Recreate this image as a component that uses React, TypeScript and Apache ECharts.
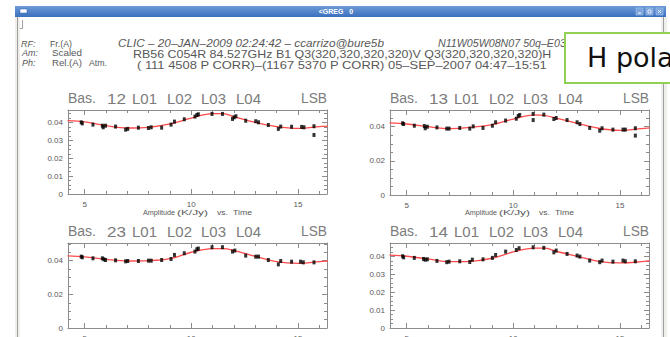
import React, { useEffect, useRef } from "react";
import * as echarts from "echarts";

// ---- Baseline 12 : observation time (h) and amplitude (K/Jy)
const T12 = [4.84, 4.89, 5.39, 5.83, 5.87, 5.98, 6.45, 6.92, 7.02, 7.52, 7.99, 8.12, 8.61, 9.05, 9.21, 9.67, 10.17, 10.26, 10.33, 10.97, 11.46, 11.93, 12.01, 12.09, 12.55, 13.02, 13.15, 13.61, 14.08, 14.19, 14.7, 15.17, 15.28, 15.75, 15.75];
const A12 = [0.0402, 0.0396, 0.0389, 0.0383, 0.0374, 0.0383, 0.0378, 0.0361, 0.0365, 0.0372, 0.037, 0.0374, 0.0372, 0.0389, 0.0406, 0.0419, 0.0434, 0.0443, 0.0447, 0.0449, 0.0449, 0.0421, 0.043, 0.0436, 0.0411, 0.0408, 0.0402, 0.0387, 0.0365, 0.0378, 0.0377, 0.0376, 0.0374, 0.038, 0.0331];

// ---- Baseline 13
const T13 = [4.81, 4.86, 5.36, 5.83, 5.87, 5.97, 6.42, 6.88, 6.99, 7.49, 7.96, 8.12, 8.58, 9.02, 9.17, 9.64, 10.14, 10.23, 10.3, 10.93, 10.93, 11.43, 11.9, 12.01, 12.52, 12.99, 13.12, 13.58, 14.05, 14.16, 14.67, 15.14, 15.25, 15.72, 15.72];
const A13 = [0.042, 0.0416, 0.0406, 0.0404, 0.0391, 0.04, 0.0396, 0.0389, 0.0389, 0.0393, 0.0389, 0.0402, 0.0393, 0.0406, 0.0426, 0.0436, 0.0447, 0.0463, 0.0469, 0.0475, 0.0439, 0.0471, 0.0445, 0.0451, 0.0439, 0.0426, 0.0416, 0.0393, 0.0377, 0.0391, 0.0383, 0.0383, 0.0383, 0.0391, 0.0348];

// ---- Baseline 23
const T23 = [4.84, 4.89, 5.39, 5.83, 5.9, 5.98, 6.45, 6.92, 7.02, 7.52, 7.99, 8.12, 8.61, 9.05, 9.21, 9.67, 10.17, 10.26, 10.33, 10.97, 11.46, 11.93, 12.04, 12.55, 13.02, 13.15, 13.61, 14.08, 14.19, 14.7, 15.12, 15.25, 15.75];
const A23 = [0.0424, 0.042, 0.0414, 0.0414, 0.0408, 0.0404, 0.0402, 0.0396, 0.0398, 0.0398, 0.04, 0.04, 0.0404, 0.041, 0.0434, 0.0444, 0.0454, 0.0468, 0.0472, 0.048, 0.048, 0.0454, 0.046, 0.043, 0.0424, 0.0424, 0.0404, 0.0378, 0.0398, 0.0394, 0.0394, 0.039, 0.039];

// ---- Baseline 14
const T14 = [4.81, 4.86, 5.36, 5.79, 5.87, 5.97, 6.42, 6.88, 6.99, 7.49, 7.96, 8.08, 8.58, 9.02, 9.17, 9.64, 10.14, 10.27, 10.93, 11.43, 11.9, 12.01, 12.52, 12.99, 13.12, 13.58, 14.05, 14.16, 14.67, 15.14, 15.25, 15.72];
const A14 = [0.04, 0.0394, 0.0391, 0.0385, 0.0381, 0.0383, 0.0374, 0.0367, 0.037, 0.0372, 0.0368, 0.0381, 0.0383, 0.0391, 0.0407, 0.0426, 0.0435, 0.0445, 0.045, 0.0447, 0.0422, 0.0432, 0.0413, 0.0404, 0.0398, 0.0376, 0.0367, 0.0376, 0.037, 0.0376, 0.0372, 0.0372];

// ---- Fitted amplitude curves, sampled at FIT_T
const FIT_T = [4.2, 5, 6, 7, 8, 9, 10, 11, 11.5, 12, 13, 14, 15, 16, 16.4];
const FIT_12 = [0.0411, 0.0404, 0.0383, 0.037, 0.0374, 0.0393, 0.0426, 0.0451, 0.0451, 0.0434, 0.0402, 0.0378, 0.0368, 0.0378, 0.0381];
const FIT_13 = [0.0422, 0.0416, 0.04, 0.0389, 0.0396, 0.0412, 0.0445, 0.0469, 0.0465, 0.0451, 0.042, 0.0391, 0.0379, 0.0389, 0.0393];
const FIT_23 = [0.0428, 0.0422, 0.0408, 0.0398, 0.04, 0.0412, 0.045, 0.0472, 0.0472, 0.046, 0.0426, 0.0394, 0.0384, 0.0394, 0.0398];
const FIT_14 = [0.0406, 0.04, 0.0385, 0.037, 0.0372, 0.0389, 0.0424, 0.0445, 0.0445, 0.0428, 0.04, 0.0372, 0.0363, 0.037, 0.0376];

// ---- Axis ticks
const X_MIN = 4.22;
const X_MAX = 16.36;
const X_MAJOR = [5, 10, 15];
const X_MINOR = [6, 7, 8, 9, 11, 12, 13, 14, 16];

const FONT = "'Liberation Sans', Arial, sans-serif";
const TEXT = "#585858";
const FRAME = "#8c8c8c";
const PANEL_W = 259;

const PANELS = [
  { base: "12", t: T12, a: A12, fit: FIT_12, left: 68, top: 110, height: 84, yMax: 0.0471, yStep: 0.01 },
  { base: "13", t: T13, a: A13, fit: FIT_13, left: 390, top: 110, height: 85, yMax: 0.0498, yStep: 0.02 },
  { base: "23", t: T23, a: A23, fit: FIT_23, left: 68, top: 243, height: 85, yMax: 0.0505, yStep: 0.02 },
  { base: "14", t: T14, a: A14, fit: FIT_14, left: 390, top: 243, height: 85, yMax: 0.0474, yStep: 0.01 },
];

function yTicks(max: number, step: number) {
  const major: number[] = [];
  const minor: number[] = [];
  const sub = step / 4;
  for (let i = 0; i * sub <= max + 1e-9; i++) {
    const v = Number((i * sub).toFixed(5));
    if (i % 4 === 0) major.push(v);
    else minor.push(v);
  }
  return { major, minor };
}

export default function App() {
  const ref = useRef<HTMLDivElement>(null);

  useEffect(() => {
    if (!ref.current) return;
    const chart = echarts.init(ref.current, null, { renderer: "svg" });

    const ctx = document.createElement("canvas").getContext("2d") as CanvasRenderingContext2D;
    const txt = (
      text: string,
      x: number,
      y: number,
      width: number,
      size: number,
      o: { italic?: boolean; bold?: boolean; color?: string; align?: string; family?: string } = {}
    ) => {
      const fontStyle = o.italic ? "italic" : "normal";
      const fontWeight = o.bold ? "bold" : "normal";
      const family = o.family || FONT;
      ctx.font = `${fontStyle} ${fontWeight} ${size}px ${family}`;
      const w = ctx.measureText(text).width || 1;
      return {
        type: "text",
        x,
        y,
        scaleX: width ? width / w : 1,
        silent: true,
        style: {
          text,
          fontSize: size,
          fontFamily: family,
          fontStyle,
          fontWeight,
          fill: o.color || TEXT,
          align: o.align || "left",
          verticalAlign: "middle",
        },
      };
    };

    const grid: any[] = [];
    const xAxis: any[] = [];
    const yAxis: any[] = [];
    const series: any[] = [];
    const graphic: any[] = [];

    PANELS.forEach((p, gi) => {
      grid.push({ left: p.left, top: p.top, width: PANEL_W, height: p.height, containLabel: false, outerBoundsMode: "none" });
      const { major, minor } = yTicks(p.yMax, p.yStep);

      const xb = {
        gridIndex: gi, type: "value", min: X_MIN, max: X_MAX,
        splitLine: { show: false }, minorTick: { show: false },
        axisLabel: { show: false }, axisTick: { show: false },
        axisLine: { show: false, onZero: false },
      };
      const yb = {
        gridIndex: gi, type: "value", min: 0, max: p.yMax,
        splitLine: { show: false }, minorTick: { show: false },
        axisLabel: { show: false }, axisTick: { show: false },
        axisLine: { show: false, onZero: false },
      };
      const line = { show: true, onZero: false, lineStyle: { color: FRAME, width: 1 } };
      const tick = (vals: number[], len: number) => ({ show: true, inside: true, length: len, customValues: vals, lineStyle: { color: FRAME, width: 1 } });

      const xi = xAxis.length;
      xAxis.push({
        ...xb, position: "bottom", axisLine: line, axisTick: tick(X_MAJOR, 5),
        axisLabel: { show: true, customValues: X_MAJOR, margin: 6, fontSize: 8, color: TEXT, fontFamily: FONT },
      });
      xAxis.push({ ...xb, position: "bottom", axisTick: tick(X_MINOR, 3) });
      xAxis.push({ ...xb, position: "top", axisLine: line, axisTick: tick(X_MAJOR, 5) });
      xAxis.push({ ...xb, position: "top", axisTick: tick(X_MINOR, 3) });

      const yi = yAxis.length;
      yAxis.push({
        ...yb, position: "left", axisLine: line, axisTick: tick(major, 5),
        axisLabel: { show: true, customValues: major, margin: 5, fontSize: 8, color: TEXT, fontFamily: FONT },
      });
      yAxis.push({ ...yb, position: "left", axisTick: tick(minor, 3) });
      yAxis.push({ ...yb, position: "right", axisLine: line, axisTick: tick(major, 5) });
      yAxis.push({ ...yb, position: "right", axisTick: tick(minor, 3) });

      series.push({
        type: "line", xAxisIndex: xi, yAxisIndex: yi, silent: true,
        data: FIT_T.map((t, i) => [t, p.fit[i]]),
        smooth: 0.35, showSymbol: false, z: 2,
        lineStyle: { color: "#ff4b4b", width: 1.3 },
      });
      series.push({
        type: "scatter", xAxisIndex: xi, yAxisIndex: yi, silent: true,
        data: p.t.map((t, i) => [t, p.a[i]]),
        symbol: "rect", symbolSize: [3, 4], z: 3,
        itemStyle: { color: "#000" },
      });

      // panel heading
      const ty = p.top - 12;
      const words: [string, number, number][] = [
        ["Bas.", 0, 28], [p.base, 39, 19], ["L01", 64, 25], ["L02", 99, 25], ["L03", 133, 25], ["L04", 168, 25],
      ];
      words.forEach(([w, dx, wd]) => graphic.push(txt(w, p.left + dx, ty, wd, 15, { color: "#7c7c7c" })));
      graphic.push(txt("LSB", p.left + PANEL_W, ty, 26, 15, { color: "#7c7c7c", align: "right" }));

      // axis caption under the upper row
      if (p.top < 200) {
        const cy = p.top + 102;
        const cap: [string, number, number][] = [["Amplitude", 75, 32], ["(K/Jy)", 109, 31], ["vs.", 149, 11], ["Time", 165, 19]];
        cap.forEach(([w, dx, wd]) => graphic.push(txt(w, p.left + dx, cy, wd, 8)));
      }
    });

    // window frame
    graphic.push({ type: "rect", silent: true, shape: { x: 15, y: 17, width: 5, height: 330 }, style: { fill: "#efeeeb" } });
    graphic.push({ type: "line", silent: true, shape: { x1: 17.5, y1: 17, x2: 17.5, y2: 340 }, style: { stroke: "#9e9e9e", lineWidth: 1 } });
    graphic.push({ type: "rect", silent: true, shape: { x: 661, y: 17, width: 6, height: 330 }, style: { fill: "#efeeeb" } });
    graphic.push({ type: "line", silent: true, shape: { x1: 663.5, y1: 17, x2: 663.5, y2: 340 }, style: { stroke: "#9e9e9e", lineWidth: 1 } });

    // title bar
    graphic.push({
      type: "rect", silent: true, shape: { x: 15, y: 6, width: 651, height: 11 },
      style: {
        fill: new echarts.graphic.LinearGradient(0, 0, 0, 1, [
          { offset: 0, color: "#6e9bd8" },
          { offset: 1, color: "#3b6fbd" },
        ]),
      },
    });
    graphic.push({ type: "rect", silent: true, shape: { x: 20, y: 9, width: 7, height: 4 }, style: { fill: "#ffffff", stroke: "#2d5ea8", lineWidth: 0.5 } });
    graphic.push(txt("<GREG   0", 336, 11.5, 0, 7, { bold: true, color: "#ffffff", align: "center" }));
    [636, 646, 656].forEach((bx) =>
      graphic.push({ type: "rect", silent: true, shape: { x: bx, y: 8, width: 7, height: 7 }, style: { fill: "#7aa3dc", stroke: "#b7cdee", lineWidth: 0.5 } })
    );
    graphic.push({ type: "line", silent: true, shape: { x1: 638, y1: 13, x2: 641, y2: 13 }, style: { stroke: "#fff", lineWidth: 1 } });
    graphic.push({ type: "rect", silent: true, shape: { x: 648, y: 10, width: 3, height: 3 }, style: { fill: "none", stroke: "#fff", lineWidth: 0.8 } });
    graphic.push({ type: "line", silent: true, shape: { x1: 658, y1: 10, x2: 661, y2: 13 }, style: { stroke: "#fff", lineWidth: 0.8 } });
    graphic.push({ type: "line", silent: true, shape: { x1: 661, y1: 10, x2: 658, y2: 13 }, style: { stroke: "#fff", lineWidth: 0.8 } });

    // small entry mark under the title bar
    graphic.push({ type: "polyline", silent: true, shape: { points: [[20, 28.5], [22.5, 28.5], [22.5, 20]] }, style: { stroke: "#a0a0a0", fill: "none", lineWidth: 1 } });

    // header block
    graphic.push(txt("RF:", 21, 43.5, 0, 9, { italic: true }));
    graphic.push(txt("Fr.(A)", 50, 43.5, 22, 9));
    graphic.push(txt("Am:", 22, 53, 0, 9, { italic: true }));
    graphic.push(txt("Scaled", 52, 53, 30, 9));
    graphic.push(txt("Ph:", 22, 63, 0, 9, { italic: true }));
    graphic.push(txt("Rel.(A)", 52, 63, 30, 9));
    graphic.push(txt("Atm.", 89, 63, 18, 9));
    graphic.push(txt("CLIC – 20–JAN–2009 02:24:42 – ccarrizo@bure5b", 118, 43.5, 266, 10, { italic: true }));
    graphic.push(txt("N11W05W08N07 50q–E03", 438, 43.5, 128, 10, { italic: true }));
    graphic.push(txt("RB56 C054R 84.527GHz B1 Q3(320,320,320,320)V Q3(320,320,320,320)H", 133, 54.5, 419, 10));
    graphic.push(txt("( 111 4508 P CORR)–(1167 5370 P CORR) 05–SEP–2007 04:47–15:51", 137, 65.5, 411, 10));

    // overlay caption box
    graphic.push({ type: "rect", silent: true, shape: { x: 565, y: 33, width: 120, height: 50 }, style: { fill: "#ffffff", stroke: "#92cf55", lineWidth: 2 } });
    graphic.push(txt("H pola", 587, 57, 0, 27, { color: "#111111", family: "'DejaVu Sans', Verdana, sans-serif" }));

    chart.setOption({
      animation: false,
      backgroundColor: "#ffffff",
      grid,
      xAxis,
      yAxis,
      series,
      graphic: { elements: graphic },
    });

    return () => chart.dispose();
  }, []);

  return (
    <div
      ref={ref}
      style={{ position: "fixed", left: 0, top: 0, width: 670, height: 337, background: "#fff" }}
    />
  );
}
